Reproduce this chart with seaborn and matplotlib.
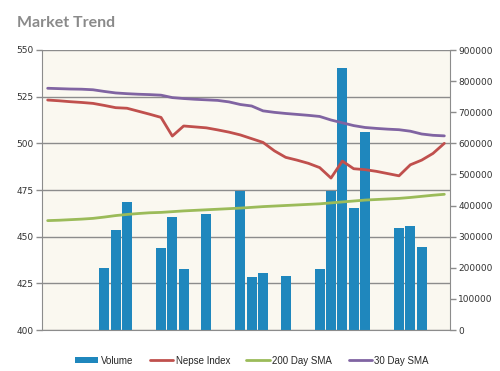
import matplotlib
matplotlib.use("Agg")
import matplotlib.pyplot as plt
import seaborn as sns
import pandas as pd
from matplotlib.patches import Patch
from matplotlib.lines import Line2D

# ---- data ----
days = list(range(36))
volume = [0, 0, 0, 0, 0, 200000, 321000, 411000, 0, 0,
          263000, 362000, 195000, 0, 374000, 0, 0, 448000, 171000, 182000,
          0, 175000, 0, 0, 195000, 447000, 841000, 393000, 635000, 0,
          0, 327000, 335000, 268000, 0, 0]
nepse = [523.2, 522.8, 522.3, 521.9, 521.4, 520.3, 519.1, 518.8, 517.2, 515.6,
         513.9, 503.9, 509.3, 508.8, 508.3, 507.2, 506.0, 504.5, 502.5, 500.5,
         496.0, 492.5, 491.0, 489.3, 487.0, 481.4, 490.5, 486.4, 485.9, 485.0,
         483.8, 482.6, 488.5, 491.0, 494.6, 500.0]
sma200 = [458.6, 458.8, 459.1, 459.4, 459.8, 460.5, 461.3, 461.9, 462.4, 462.8,
          463.0, 463.4, 463.8, 464.1, 464.4, 464.7, 465.0, 465.3, 465.7, 466.1,
          466.4, 466.7, 467.0, 467.3, 467.6, 468.1, 468.6, 469.1, 469.6, 469.9,
          470.2, 470.5, 471.0, 471.6, 472.2, 472.7]
sma30 = [529.5, 529.3, 529.1, 529.0, 528.7, 527.8, 527.0, 526.6, 526.3, 526.1,
         525.8, 524.5, 524.0, 523.6, 523.3, 523.0, 522.2, 520.8, 520.0, 517.4,
         516.6, 516.0, 515.5, 515.0, 514.4, 512.5, 511.0, 509.5, 508.5, 508.0,
         507.6, 507.3, 506.5, 505.0, 504.3, 504.0]
left_ticks = [400, 425, 450, 475, 500, 525, 550]
right_ticks = [0, 100000, 200000, 300000, 400000, 500000, 600000, 700000, 800000, 900000]
title = "Market Trend"
legend_labels = ["Volume", "Nepse Index", "200 Day SMA", "30 Day SMA"]

c_bar = "#1f87bd"
c_red = "#c0504d"
c_green = "#9bbb59"
c_purple = "#8064a2"
c_bg = "#faf8f0"
c_grid = "#8c8c8c"

sns.set_style("white")
plt.rcParams["font.family"] = ["DejaVu Sans"]

df = pd.DataFrame({"day": days, "volume": volume, "nepse": nepse,
                   "sma200": sma200, "sma30": sma30})

fig = plt.figure(figsize=(5.0, 3.71), dpi=100)
fig.patch.set_facecolor("white")
L, R, B, T = 42 / 500, 450 / 500, 1 - 330 / 371, 1 - 50 / 371
axv = fig.add_axes([L, B, R - L, T - B])   # volume axis (right labels)
axi = axv.twinx()                          # index axis (left labels)

# volume axis
axv.set_facecolor(c_bg)
axv.set_ylim(0, 900000)
# gridlines at the index-axis ticks, drawn beneath the bars
lo, hi = left_ticks[0], left_ticks[-1]
for v in left_ticks:
    axv.axhline((v - lo) / (hi - lo) * 900000, color=c_grid, lw=1.0, zorder=0.5)
sns.barplot(data=df, x="day", y="volume", ax=axv, color=c_bar, width=0.88,
            saturation=1, zorder=2, linewidth=0)
axv.set_xlim(-0.5, len(days) - 0.5)

# index axis
sns.lineplot(data=df, x="day", y="nepse", ax=axi, color=c_red, lw=2.0, zorder=3)
sns.lineplot(data=df, x="day", y="sma200", ax=axi, color=c_green, lw=2.0, zorder=3)
sns.lineplot(data=df, x="day", y="sma30", ax=axi, color=c_purple, lw=2.0, zorder=3)
axi.set_ylim(lo, hi)
axi.set_xlim(-0.5, len(days) - 0.5)

# swap sides: index labels on left, volume labels on right
axi.yaxis.tick_left()
axi.yaxis.set_label_position("left")
axv.yaxis.tick_right()
axv.yaxis.set_label_position("right")
axi.set_yticks(left_ticks)
axi.set_yticklabels([str(t) for t in left_ticks])
axv.set_yticks(right_ticks)
axv.set_yticklabels([str(t) for t in right_ticks])
for a in (axi, axv):
    a.set_xlabel("")
    a.set_ylabel("")
    a.set_xticks([])
    a.tick_params(axis="y", length=4, width=1, color=c_grid, labelsize=6.5,
                  labelcolor="#333333", pad=2)
    for s in a.spines.values():
        s.set_visible(False)
axi.spines["left"].set_visible(True)
axi.spines["left"].set_color(c_grid)
axv.spines["right"].set_visible(True)
axv.spines["right"].set_color(c_grid)
axv.spines["bottom"].set_visible(True)
axv.spines["bottom"].set_color(c_grid)
axi.tick_params(axis="y", left=True, right=False)
axv.tick_params(axis="y", right=True, left=False)

fig.text(17 / 500, 1 - 27 / 371, title, fontsize=11.5, fontweight="bold",
         color="#8a8a8a", family=["Lato", "DejaVu Sans"],
         ha="left", va="baseline")

handles = [Patch(facecolor=c_bar, edgecolor="none"),
           Line2D([], [], color=c_red, lw=2),
           Line2D([], [], color=c_green, lw=2),
           Line2D([], [], color=c_purple, lw=2)]
fig.legend(handles, legend_labels, loc="center", bbox_to_anchor=(0.504, 1 - 360.5 / 371),
           ncol=4, frameon=False, handlelength=2.4, handleheight=0.6,
           handletextpad=0.25, columnspacing=1.7,
           prop={"family": ["Liberation Sans", "DejaVu Sans"], "size": 7})

fig.savefig("out.png", dpi=100, facecolor="white")
